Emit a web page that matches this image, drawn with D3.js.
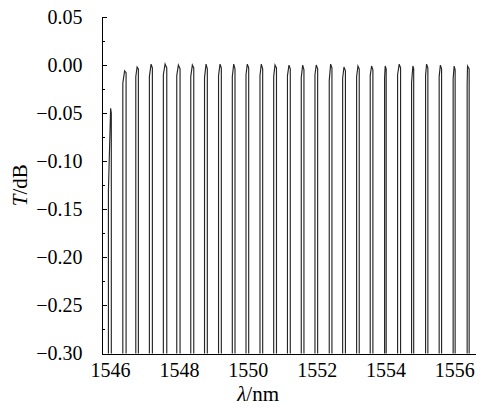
<!DOCTYPE html>
<html>
<head>
<meta charset="utf-8">
<script src="https://cdn.jsdelivr.net/npm/d3@7"></script>
<style>
    body { margin: 0; background: #fff; }
    .axis path, .axis line { stroke: #000; stroke-width: 1; shape-rendering: crispEdges; }
    .trace { fill: none; stroke: #262626; stroke-width: 1.15; }
</style>
</head>
<body>
<div id="chart"></div>
<script>
const serif = "'Liberation Serif', 'Times New Roman', serif";

// comb peaks: apex wavelength / dB, the two flanks and where their tops bend in
const peakWl = [1546.015, 1546.421, 1546.784, 1547.190, 1547.597, 1547.983, 1548.389, 1548.787, 1549.193,
    1549.591, 1549.985, 1550.392, 1550.790, 1551.196, 1551.594, 1551.988, 1552.406, 1552.793, 1553.199,
    1553.596, 1553.991, 1554.398, 1554.795, 1555.193, 1555.594, 1555.994, 1556.383];
const peakT = [-0.045, -0.006, -0.002, 0.001, 0.001, 0.000, 0.000, 0.001, 0.001,
    0.001, 0.001, 0.001, 0.000, 0.000, 0.000, 0.000, 0.001, -0.002, -0.001,
    -0.001, -0.001, 0.001, -0.001, 0.001, 0.000, -0.001, -0.001];
const leftWl = [1545.951, 1546.369, 1546.746, 1547.141, 1547.547, 1547.936, 1548.343, 1548.743, 1549.150,
    1549.550, 1549.948, 1550.354, 1550.752, 1551.152, 1551.553, 1551.951, 1552.366, 1552.755, 1553.161,
    1553.556, 1553.974, 1554.351, 1554.758, 1555.164, 1555.559, 1555.965, 1556.372];
const rightWl = [1546.035, 1546.464, 1546.821, 1547.228, 1547.646, 1548.032, 1548.430, 1548.824, 1549.231,
    1549.628, 1550.026, 1550.432, 1550.833, 1551.234, 1551.631, 1552.029, 1552.444, 1552.836, 1553.237,
    1553.634, 1554.020, 1554.438, 1554.819, 1555.231, 1555.629, 1556.023, 1556.430];
const leftTopT = [-0.130, -0.019, -0.012, -0.012, -0.010, -0.011, -0.012, -0.013, -0.011,
    -0.012, -0.010, -0.011, -0.012, -0.011, -0.013, -0.010, -0.016, -0.014, -0.012,
    -0.011, -0.013, -0.010, -0.018, -0.011, -0.012, -0.014, -0.020];
const rightTopT = [-0.050, -0.008, -0.004, -0.003, -0.003, -0.004, -0.003, -0.004, -0.003,
    -0.004, -0.003, -0.004, -0.003, -0.004, -0.005, -0.004, -0.003, -0.006, -0.004,
    -0.005, -0.004, -0.003, -0.004, -0.003, -0.004, -0.005, -0.004];
const floorT = -0.31; // flanks keep going below the visible range

const xTicks = [1546, 1548, 1550, 1552, 1554, 1556];
const yTicks = [-0.30, -0.25, -0.20, -0.15, -0.10, -0.05, 0.00, 0.05];
const yMinor = [-0.275, -0.225, -0.175, -0.125, -0.075, -0.025, 0.025];

const width = 487, height = 408;
const margin = { top: 17, right: 12, bottom: 54.5, left: 101.5 };
const w = width - margin.left - margin.right;
const h = height - margin.top - margin.bottom;

const x = d3.scaleLinear().domain([1545.75, 1556.6]).range([0, w]);
const y = d3.scaleLinear().domain([-0.30, 0.05]).range([h, 0]);

const svg = d3.select("#chart").append("svg")
    .attr("width", width)
    .attr("height", height)
    .style("display", "block");

svg.append("defs").append("clipPath")
    .attr("id", "plot-clip")
    .append("rect")
    .attr("width", w).attr("height", h);

const g = svg.append("g")
    .attr("transform", "translate(" + margin.left + "," + margin.top + ")");

// one small path per peak
const peaks = peakWl.map((wl, i) => [
    [leftWl[i], floorT],
    [leftWl[i], leftTopT[i]],
    [wl, peakT[i]],
    [rightWl[i], rightTopT[i]],
    [rightWl[i], floorT]
]);
const line = d3.line().x(d => x(d[0])).y(d => y(d[1]));

g.append("g")
    .attr("clip-path", "url(#plot-clip)")
    .selectAll("path")
    .data(peaks)
    .join("path")
    .attr("class", "trace")
    .attr("d", line);

// y axis, ticks pointing in
const yAxis = g.append("g")
    .attr("class", "axis y")
    .call(d3.axisLeft(y).tickValues(yTicks).tickFormat(d3.format(".2f"))
        .tickSize(-5).tickSizeOuter(0).tickPadding(19));
g.append("g")
    .attr("class", "axis y-minor")
    .call(d3.axisLeft(y).tickValues(yMinor).tickFormat("").tickSize(-3).tickSizeOuter(0))
    .select(".domain").remove();

// x axis, line and labels only
const xAxis = g.append("g")
    .attr("class", "axis x")
    .attr("transform", "translate(0," + h + ")")
    .call(d3.axisBottom(x).tickValues(xTicks).tickFormat(d3.format("d"))
        .tickSize(0).tickSizeOuter(0).tickPadding(9));

[xAxis, yAxis].forEach(a => a.attr("font-family", serif).attr("font-size", 20)
    .selectAll("text").attr("fill", "#000"));

// axis titles
const yTitle = svg.append("text")
    .attr("transform", "translate(27," + (margin.top + h / 2) + ") rotate(-90)")
    .attr("text-anchor", "middle")
    .attr("font-family", serif)
    .attr("font-size", 21);
yTitle.append("tspan").attr("font-style", "italic").text("T");
yTitle.append("tspan").text("/dB");

const xTitle = svg.append("text")
    .attr("x", margin.left + x(1550.3))
    .attr("y", 401)
    .attr("text-anchor", "middle")
    .attr("font-family", serif)
    .attr("font-size", 21);
xTitle.append("tspan").attr("font-style", "italic").text("λ");
xTitle.append("tspan").text("/nm");
</script>
</body>
</html>
